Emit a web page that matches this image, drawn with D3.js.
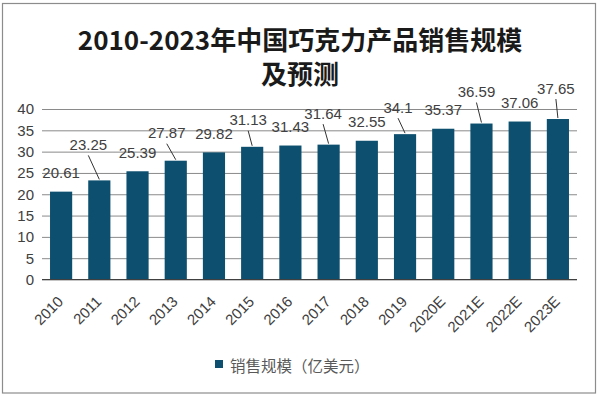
<!DOCTYPE html>
<html>
<head>
<meta charset="utf-8">
<script src="https://cdn.jsdelivr.net/npm/d3@7"></script>
<style>
  html, body { margin: 0; padding: 0; background: #fff; }
  svg { display: block; }
</style>
</head>
<body>
<svg id="chart" width="600" height="399"></svg>
<script>
// ---- data ----
const categories = ["2010","2011","2012","2013","2014","2015","2016","2017","2018","2019","2020E","2021E","2022E","2023E"];
const values = [20.61, 23.25, 25.39, 27.87, 29.82, 31.13, 31.43, 31.64, 32.55, 34.1, 35.37, 36.59, 37.06, 37.65];
const yTicks = [0, 5, 10, 15, 20, 25, 30, 35, 40];
const seriesName = "销售规模（亿美元）";
const titleLines = ["2010-2023年中国巧克力产品销售规模", "及预测"];
// label displacement (px) for labels moved off their bar, leader line drawn when moved
const labelShift = [[0,0],[-11,-17],[0,0],[-9,-9],[0,0],[-4,-8],[0,0],[-5.5,-12.5],[0,0],[-7,-8],[0,0],[-5,-13],[0,0],[-2,-12]];

// ---- layout ----
const svg = d3.select("#chart");
const font = "'Liberation Sans', Arial, sans-serif";
const barColor = "#0d4f6e";

svg.append("rect").attr("x", 2.5).attr("y", 3.5).attr("width", 593).attr("height", 389.5)
  .attr("fill", "#fff").attr("stroke", "#8c8c8c").attr("stroke-width", 1.2);

const x = d3.scaleBand().domain(categories).range([42, 577]).paddingInner(0.42).paddingOuter(0.21);
const y = d3.scaleLinear().domain([0, 40]).range([279.5, 109]);

// title
svg.append("g").selectAll("text").data(titleLines).join("text")
  .attr("x", 300).attr("y", (d, i) => 38 + i * 34)
  .attr("text-anchor", "middle").attr("dominant-baseline", "central")
  .attr("font-family", "'Noto Sans CJK SC', sans-serif").attr("font-weight", "bold")
  .attr("font-size", 26).attr("fill", "#1a1a1a").text(d => d);

// grid + y axis
const yAxis = d3.axisLeft(y).tickValues(yTicks).tickSize(-(577 - 42)).tickPadding(8).tickFormat(d3.format("d"));
const gy = svg.append("g").attr("transform", "translate(42,0)").call(yAxis);
gy.select(".domain").remove();
gy.selectAll(".tick line").attr("stroke", "#8a8a8a").attr("stroke-width", 1);
gy.selectAll(".tick text").attr("font-family", font).attr("font-size", 15).attr("fill", "#404040");

// bars
svg.append("g").selectAll("rect").data(values).join("rect")
  .attr("x", (d, i) => x(categories[i]))
  .attr("y", d => y(d))
  .attr("width", x.bandwidth())
  .attr("height", d => y(0) - y(d))
  .attr("fill", barColor);

// x axis
const xAxis = d3.axisBottom(x).tickSize(0).tickPadding(0);
const gx = svg.append("g").attr("transform", `translate(0,${y(0)})`).call(xAxis);
gx.select(".domain").attr("stroke", "#404040").attr("stroke-width", 1.2).attr("d", "M42,0H577");
gx.selectAll(".tick text")
  .attr("font-family", font).attr("font-size", 15).attr("fill", "#404040")
  .attr("text-anchor", "end").attr("dy", 0).attr("y", 0)
  .attr("transform", "translate(3,23) rotate(-45)");

// data labels
const lbl = svg.append("g");
values.forEach((v, i) => {
  const cx = x(categories[i]) + x.bandwidth() / 2;
  const [dx, dy] = labelShift[i];
  const lx = cx + dx, ly = y(v) - 19 + dy;
  if (dx !== 0 || dy !== 0) {
    lbl.append("line").attr("x1", lx).attr("y1", ly + 11).attr("x2", cx).attr("y2", y(v) - 1)
      .attr("stroke", "#333").attr("stroke-width", 1);
  }
  lbl.append("text").attr("x", lx).attr("y", ly)
    .attr("text-anchor", "middle").attr("dominant-baseline", "central")
    .attr("font-family", font).attr("font-size", 15).attr("fill", "#404040").text(v);
});

// legend
const lg = svg.append("g");
lg.append("rect").attr("x", 215).attr("y", 360).attr("width", 8).attr("height", 8).attr("fill", barColor);
lg.append("text").attr("x", 230).attr("y", 364.5).attr("dominant-baseline", "central")
  .attr("font-family", "'Noto Sans CJK SC', sans-serif").attr("font-size", 15.5).attr("fill", "#595959").text(seriesName);
</script>
</body>
</html>
